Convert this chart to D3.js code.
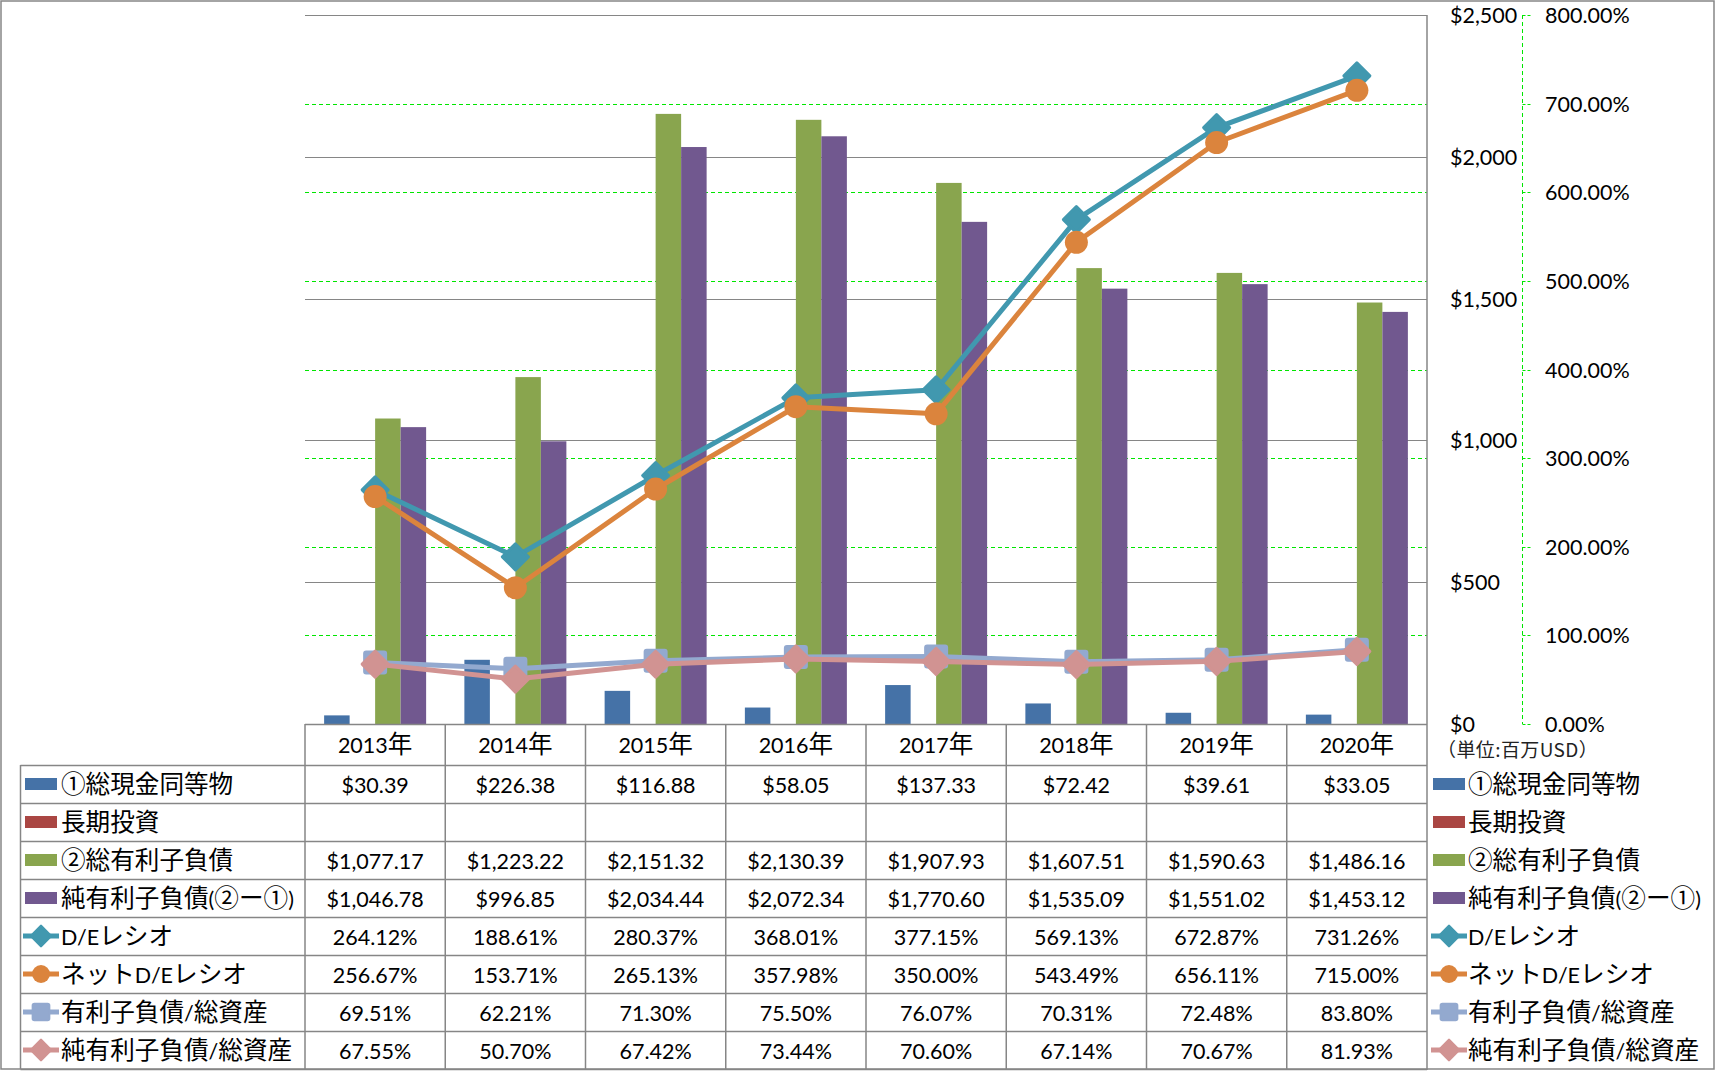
<!DOCTYPE html>
<html>
<head>
<meta charset="utf-8">
<script src="https://cdn.jsdelivr.net/npm/d3@7"></script>
<style>
  html, body { margin: 0; padding: 0; background: #fff; }
  svg { display: block; }
</style>
</head>
<body>
<svg id="chart" width="1716" height="1071"></svg>
<script>
// ---------- data ----------
const years = ["2013年", "2014年", "2015年", "2016年", "2017年", "2018年", "2019年", "2020年"];
const cashEquivalents = [30.39, 226.38, 116.88, 58.05, 137.33, 72.42, 39.61, 33.05];
const longTermInvestments = [null, null, null, null, null, null, null, null];
const totalDebt = [1077.17, 1223.22, 2151.32, 2130.39, 1907.93, 1607.51, 1590.63, 1486.16];
const netDebt = [1046.78, 996.85, 2034.44, 2072.34, 1770.60, 1535.09, 1551.02, 1453.12];
const deRatio = [264.12, 188.61, 280.37, 368.01, 377.15, 569.13, 672.87, 731.26];
const netDeRatio = [256.67, 153.71, 265.13, 357.98, 350.00, 543.49, 656.11, 715.00];
const debtToAssets = [69.51, 62.21, 71.30, 75.50, 76.07, 70.31, 72.48, 83.80];
const netDebtToAssets = [67.55, 50.70, 67.42, 73.44, 70.60, 67.14, 70.67, 81.93];
const usdTicks = [0, 500, 1000, 1500, 2000, 2500];
const pctTicks = [0, 100, 200, 300, 400, 500, 600, 700, 800];
const barNames = ["①総現金同等物", "長期投資", "②総有利子負債", "純有利子負債(②ー①)"];
const lineNames = ["D/Eレシオ", "ネットD/Eレシオ", "有利子負債/総資産", "純有利子負債/総資産"];
const unitLabel = "（単位:百万USD）";

// ---------- styles ----------
const barColors = ["#4572A7", "#AA4643", "#89A54E", "#71588F"];
const lineColors = ["#4198AF", "#DB843D", "#93A9CF", "#D19392"];
const lineMarkers = ["diamond", "circle", "square", "diamond"];
const LATIN = "Lato, 'Noto Sans', sans-serif";
const CJK = "'Noto Sans CJK JP', 'Noto Sans', sans-serif";
const LATIN_SIZE = 21.5, CJK_SIZE = 24.6;
const GRAY = "#868686";
const GREEN = "#00E600";

const svg = d3.select("#chart");

const plotL = 305, plotR = 1427, plotT = 15, plotB = 724;
const x = d3.scaleBand().domain(years).range([plotL, plotR]).padding(0);
const bw = x.bandwidth();
const xBar = d3.scaleBand().domain(d3.range(4)).range([0, bw]).paddingInner(0).paddingOuter(0.75);
const yUsd = d3.scaleLinear().domain([0, 2500]).range([plotB, plotT]);
const yPct = d3.scaleLinear().domain([0, 800]).range([plotB, plotT]);

// mixed-script text helper
function mixedText(sel, str) {
  const parts = str.match(/[\x00-\x7F]+|[^\x00-\x7F]+/g) || [];
  parts.forEach(p => {
    const ascii = /^[\x00-\x7F]+$/.test(p);
    sel.append("tspan")
      .attr("font-family", ascii ? LATIN : CJK)
      .attr("font-size", ascii ? LATIN_SIZE : CJK_SIZE)
      .text(p);
  });
  return sel;
}

// outer frame
svg.append("rect").attr("x", 1).attr("y", 1).attr("width", 1713).attr("height", 1068)
  .attr("fill", "#fff").attr("stroke", GRAY).attr("stroke-width", 1.5);

// green dashed percent gridlines
svg.append("g").selectAll("line").data(pctTicks.filter(d => d > 0)).join("line")
  .attr("x1", plotL).attr("x2", plotR)
  .attr("y1", d => Math.round(yPct(d)) + 0.5).attr("y2", d => Math.round(yPct(d)) + 0.5)
  .attr("stroke", GREEN).attr("stroke-width", 1).attr("stroke-dasharray", "4,3");

// gray usd gridlines
svg.append("g").selectAll("line").data(usdTicks.filter(d => d > 0)).join("line")
  .attr("x1", plotL).attr("x2", plotR)
  .attr("y1", d => Math.round(yUsd(d)) + 0.5).attr("y2", d => Math.round(yUsd(d)) + 0.5)
  .attr("stroke", GRAY).attr("stroke-width", 1.2);

// bars
const barSeries = [cashEquivalents, longTermInvestments, totalDebt, netDebt];
barSeries.forEach((vals, si) => {
  svg.append("g").selectAll("rect")
    .data(vals.map((v, i) => ({ v, c: years[i] })).filter(d => d.v != null))
    .join("rect")
    .attr("x", d => x(d.c) + xBar(si))
    .attr("width", xBar.bandwidth())
    .attr("y", d => yUsd(d.v))
    .attr("height", d => yUsd(0) - yUsd(d.v))
    .attr("fill", barColors[si]);
});

// marker drawing
function drawMarker(g, type, cx, cy, color, s) {
  if (type === "diamond") {
    const h = 13 * s;
    g.append("path").attr("d", `M${cx},${cy - h}L${cx + h},${cy}L${cx},${cy + h}L${cx - h},${cy}Z`)
      .attr("fill", color).attr("stroke", color).attr("stroke-width", 3 * s).attr("stroke-linejoin", "round");
  } else if (type === "circle") {
    g.append("circle").attr("cx", cx).attr("cy", cy).attr("r", 11.5 * s).attr("fill", color);
  } else {
    const h = 11 * s;
    g.append("rect").attr("x", cx - h).attr("y", cy - h).attr("width", 2 * h).attr("height", 2 * h)
      .attr("rx", 2).attr("fill", color).attr("stroke", color).attr("stroke-width", 2 * s).attr("stroke-linejoin", "round");
  }
}

// lines (secondary axis)
const lineSeries = [deRatio, netDeRatio, debtToAssets, netDebtToAssets];
const lineGen = d3.line().x((d, i) => x(years[i]) + bw / 2).y(d => yPct(d));
lineSeries.forEach((vals, si) => {
  const g = svg.append("g");
  g.append("path").attr("d", lineGen(vals)).attr("fill", "none")
    .attr("stroke", lineColors[si]).attr("stroke-width", 5).attr("stroke-linejoin", "round");
  vals.forEach((v, i) => drawMarker(g, lineMarkers[si], x(years[i]) + bw / 2, yPct(v), lineColors[si], 1));
});

// secondary axis line (dashed green) with outward ticks
svg.append("line").attr("x1", 1522.5).attr("x2", 1522.5).attr("y1", yPct(800)).attr("y2", yPct(0))
  .attr("stroke", GREEN).attr("stroke-width", 1).attr("stroke-dasharray", "4,3");
svg.append("g").selectAll("line").data(pctTicks).join("line")
  .attr("x1", 1522.5).attr("x2", 1531)
  .attr("y1", d => Math.round(yPct(d)) + 0.5).attr("y2", d => Math.round(yPct(d)) + 0.5)
  .attr("stroke", GREEN).attr("stroke-width", 1).attr("stroke-dasharray", "3,2");

// primary axis labels
svg.append("g").selectAll("text").data(usdTicks).join("text")
  .attr("x", 1450).attr("y", d => yUsd(d) + 8)
  .attr("font-family", LATIN).attr("font-size", LATIN_SIZE).attr("fill", "#000")
  .text(d => "$" + d3.format(",")(d));

// secondary axis labels
svg.append("g").selectAll("text").data(pctTicks).join("text")
  .attr("x", 1545).attr("y", d => yPct(d) + 8)
  .attr("font-family", LATIN).attr("font-size", LATIN_SIZE).attr("fill", "#000")
  .text(d => d3.format(".2f")(d) + "%");

// unit label
svg.append("text").attr("x", 1437).attr("y", 757)
  .attr("font-family", CJK).attr("font-size", 19).attr("letter-spacing", 0.4).attr("fill", "#222").text(unitLabel);

// ---------- data table ----------
const tblTop = 724, headB = 765, rowH = 38, nRows = 8, tblL = 20.5;
const tblB = headB + rowH * nRows;
const tg = svg.append("g");
// horizontal lines
tg.append("line").attr("x1", plotL).attr("x2", plotR).attr("y1", tblTop + 0.5).attr("y2", tblTop + 0.5)
  .attr("stroke", GRAY).attr("stroke-width", 1.5);
d3.range(nRows + 1).forEach(r => {
  const yy = headB + r * rowH + 0.5;
  tg.append("line").attr("x1", tblL).attr("x2", plotR).attr("y1", yy).attr("y2", yy)
    .attr("stroke", GRAY).attr("stroke-width", 1.5);
});
// vertical lines
years.forEach(c => {
  tg.append("line").attr("x1", x(c)).attr("x2", x(c)).attr("y1", tblTop).attr("y2", tblB)
    .attr("stroke", GRAY).attr("stroke-width", 1.5);
});
tg.append("line").attr("x1", plotR).attr("x2", plotR).attr("y1", plotT).attr("y2", tblB + 1)
  .attr("stroke", GRAY).attr("stroke-width", 1.5);
tg.append("line").attr("x1", tblL).attr("x2", tblL).attr("y1", headB).attr("y2", tblB)
  .attr("stroke", GRAY).attr("stroke-width", 1.5);

// header labels
years.forEach(c => {
  mixedText(tg.append("text").attr("x", x(c) + bw / 2).attr("y", (tblTop + headB) / 2 + 8)
    .attr("text-anchor", "middle").attr("fill", "#000"), c);
});

const usdFmt = v => v == null ? "" : "$" + d3.format(",.2f")(v);
const pctFmt = v => v == null ? "" : d3.format(".2f")(v) + "%";
const rows = [
  { name: barNames[0], vals: cashEquivalents, fmt: usdFmt, kind: "bar", color: barColors[0] },
  { name: barNames[1], vals: longTermInvestments, fmt: usdFmt, kind: "bar", color: barColors[1] },
  { name: barNames[2], vals: totalDebt, fmt: usdFmt, kind: "bar", color: barColors[2] },
  { name: barNames[3], vals: netDebt, fmt: usdFmt, kind: "bar", color: barColors[3] },
  { name: lineNames[0], vals: deRatio, fmt: pctFmt, kind: lineMarkers[0], color: lineColors[0] },
  { name: lineNames[1], vals: netDeRatio, fmt: pctFmt, kind: lineMarkers[1], color: lineColors[1] },
  { name: lineNames[2], vals: debtToAssets, fmt: pctFmt, kind: lineMarkers[2], color: lineColors[2] },
  { name: lineNames[3], vals: netDebtToAssets, fmt: pctFmt, kind: lineMarkers[3], color: lineColors[3] }
];

function legendKey(g, row, cx, cy) {
  if (row.kind === "bar") {
    g.append("rect").attr("x", cx - 16).attr("y", cy - 6).attr("width", 32).attr("height", 12).attr("fill", row.color);
  } else {
    g.append("line").attr("x1", cx - 18).attr("x2", cx + 18).attr("y1", cy).attr("y2", cy)
      .attr("stroke", row.color).attr("stroke-width", 5);
    drawMarker(g, row.kind, cx, cy, row.color, 0.78);
  }
}

rows.forEach((row, r) => {
  const cy = headB + r * rowH + rowH / 2;
  // left legend column
  legendKey(tg, row, 41, cy);
  mixedText(tg.append("text").attr("x", 61).attr("y", cy + 8.5).attr("fill", "#000"), row.name);
  // right legend
  legendKey(tg, row, 1449, cy);
  mixedText(tg.append("text").attr("x", 1468).attr("y", cy + 8.5).attr("fill", "#000"), row.name);
  // values
  row.vals.forEach((v, i) => {
    tg.append("text").attr("x", x(years[i]) + bw / 2).attr("y", cy + 8.5)
      .attr("text-anchor", "middle").attr("font-family", LATIN).attr("font-size", LATIN_SIZE)
      .attr("fill", "#000").text(row.fmt(v));
  });
});
</script>
</body>
</html>
